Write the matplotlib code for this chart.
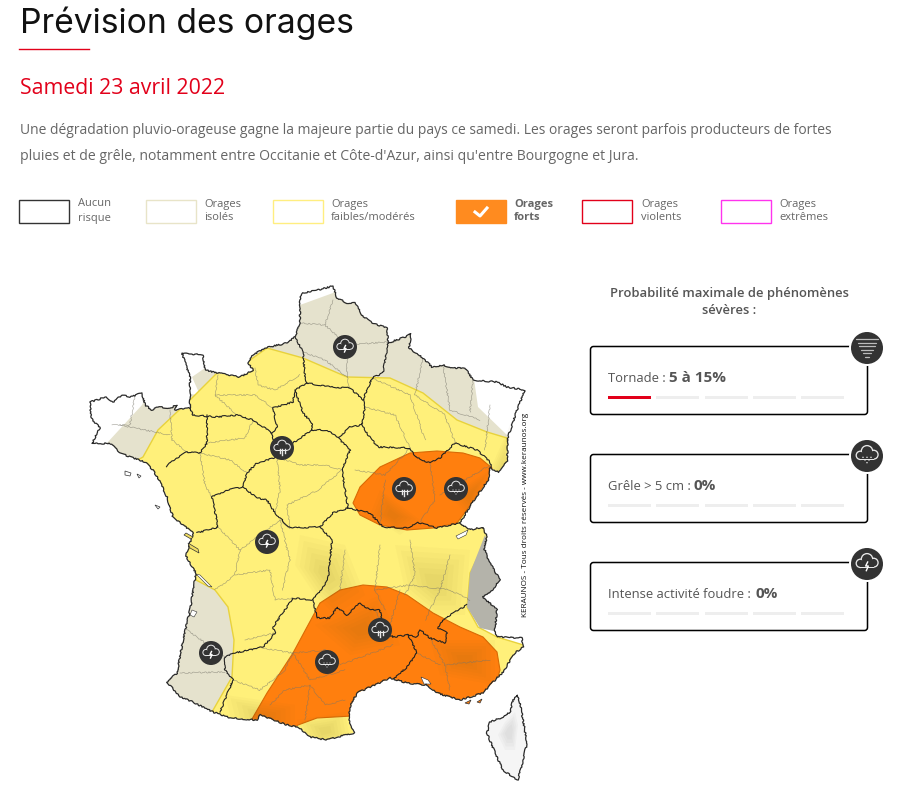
import matplotlib
matplotlib.use("Agg")
import matplotlib.pyplot as plt
from matplotlib.patches import Polygon, Rectangle, Circle, FancyBboxPatch

# outlines are in picture pixels
france = [(300,297),(303,293),(318,290),(333,286),(337,298),(347,303),(355,303),(362,315),(372,323),(387,328),(388,343),
          (405,337),(411,334),(409,348),(423,358),(432,367),(443,365),(453,368),(465,368),(473,380),(497,382),(507,387),
          (525,390),(517,410),(508,437),(507,462),(498,472),(490,468),(488,480),(472,503),(460,523),(470,530),(483,527),
          (487,537),(484,548),(490,563),(500,580),(490,593),(483,597),(497,610),(495,630),(497,637),(522,638),(523,647),
          (515,653),(503,672),(495,680),(483,693),(460,700),(437,693),(427,685),(407,683),(390,678),(370,687),(357,693),
          (350,707),(349,723),(354,733),(337,737),(327,740),(310,737),(298,727),(287,725),(260,715),(257,720),(230,718),
          (213,712),(193,702),(180,697),(167,682),(177,673),(183,640),(190,610),(196,573),(186,556),(190,543),(193,533),
          (173,517),(167,497),(160,482),(153,470),(145,462),(133,458),(120,453),(110,443),(100,444),(92,443),(100,428),(91,418),(90,402),
          (97,400),(105,397),(113,402),(122,395),(130,397),(142,393),(145,405),(152,410),(158,407),(170,408),(177,405),(175,410),(190,408),
          (190,377),(182,353),(203,355),(205,370),
          (218,373),(240,377),(253,370),(248,363),(253,355),(265,348),(287,343),(295,337),(300,323)]
corsica = [(517,695),(520,703),(523,720),(527,743),(523,760),(518,780),(510,775),(503,770),(497,757),(493,748),(487,733),(490,722),(503,717),(510,712),(513,700)]
corsica_relief = [(515,712),(518,725),(515,750),(505,750),(498,735),(505,722)]
islands = [[(186,533),(193,537),(191,539),(184,535)],[(188,543),(198,549),(199,553),(190,548)]]
islets = [[(125,471),(131,473),(130,476),(125,475)],[(155,505),(160,507),(158,509)],[(137,474),(141,476),(139,478)]]
orange_islets = [[(465,703),(471,700),(469,704)],[(477,702),(482,699),(480,703)]]

beige_zone = [(300,305),(333,293),(345,275),(420,310),(472,365),(478,407),(507,435),(515,480),(300,480),(200,470),(143,465),
              (100,465),(107,443),(142,405),(150,390),(200,395),(192,377),(205,368),(230,360),(290,330)]
beige_sw = [(196,578),(215,590),(228,607),(234,640),(232,677),(212,712),(170,712),(150,660),(170,580)]
yellow_zone = [(143,457),(158,430),(177,412),(192,398),(217,373),(250,360),(267,348),(303,358),(347,377),(390,378),(423,393),
               (457,420),(487,432),(507,438),(512,480),(485,542),(470,573),(467,607),(478,627),(497,637),(540,650),(500,740),
               (300,760),(212,712),(232,677),(234,640),(228,607),(215,590),(196,580),(170,570),(150,500),(120,470)]
orange_ne = [(353,503),(360,487),(380,467),(410,453),(437,451),(463,453),(480,458),(492,468),(488,480),(472,503),(457,523),
             (433,528),(407,530),(380,525),(360,515)]
orange_s = [(252,719),(267,693),(293,653),(307,627),(320,603),(340,590),(363,585),(387,587),(407,595),(433,613),(460,627),
            (483,637),(497,652),(500,670),(497,680),(480,720),(352,716),(317,718),(298,725),(280,735),(252,735)]
alps_grey = [(485,535),(500,580),(498,615),(498,632),(480,628),(467,607),(470,573)]
relief = [[(300,535),(345,545),(365,595),(335,615),(315,595),(295,565)],[(395,545),(470,550),(465,615),(435,615),(405,590)],
          [(225,695),(295,705),(295,735),(235,735)],[(315,625),(380,595),(400,645),(350,655)],[(430,640),(495,640),(495,685),(440,675)],
          [(470,515),(510,425),(520,470),(490,525)],[(297,720),(345,712),(350,740),(310,750)],[(380,490),(420,520),(400,535),(370,515)],
          [(450,495),(490,470),(470,520)]]
lakes = [[(196,574),(200,575),(212,587),(208,586)],[(421,677),(428,680),(431,684),(424,684)],[(456,536),(468,530),(466,535),(458,539)],
         [(192,610),(197,612),(194,617),(190,615)]]

regions = [[(295,337),(303,352),(305,377),(307,383),(330,387),(350,388),(363,400),(372,378),(383,373),(388,343)],
           [(307,383),(295,390),(293,402),(273,408),(277,427),(272,433),(253,420),(237,415),(217,417),(193,415),(190,408)],
           [(207,415),(207,443),(200,453),(187,452),(170,462),(167,467)],
           [(295,390),(303,413),(312,423),(312,430),(327,430),(338,438),(350,427),(362,425),(365,407),(363,400)],
           [(362,425),(368,435),(378,447),(410,448),(415,457),(430,463),(440,458),(455,443),(477,450),(490,462),(492,470)],
           [(312,430),(293,443),(277,457),(272,433)],
           [(277,457),(257,463),(247,473),(243,487),(227,490),(212,497),(218,527),(197,533)],
           [(243,487),(257,498),(267,500),(275,513),(290,528),(320,527),(333,513),(348,508),(342,470),(350,450),(338,438)],
           [(348,508),(370,513),(383,527),(410,528),(417,522),(437,528),(460,523)],
           [(320,527),(332,540),(328,580),(313,600),(293,598),(273,627),(275,633),(263,647),(235,653),(225,657),(225,670),(233,680),(220,712)],
           [(313,600),(317,618),(330,618),(337,607),(347,615),(360,603),(370,610),(380,610),(383,630),(393,637),(408,635),(417,653),(407,667),(393,680)],
           [(408,635),(417,637),(420,630),(430,638),(445,643),(447,633),(438,628),(445,618),(467,605)]]
departments = [[(303,352),(325,360),(347,377),(350,388)],[(333,300),(325,325),(347,345),(347,377)],[(300,323),(325,325)],[(347,345),(387,342)],
               [(255,368),(258,385),(275,390),(300,375)],[(218,375),(215,395),(237,415)],[(215,395),(255,395),(273,408)],
               [(170,410),(172,440),(187,452)],[(135,395),(130,425),(112,425)],[(120,425),(170,435)],
               [(207,443),(245,438),(253,420)],[(200,453),(230,460),(247,473)],[(200,453),(205,485),(212,497)],
               [(290,528),(287,505),(318,490),(342,470)],[(277,457),(300,465),(325,465),(342,470)],[(275,513),(280,490),(277,457)],
               [(365,407),(395,415),(410,448)],[(372,378),(410,395),(425,440)],[(423,358),(415,395),(445,415),(455,443)],
               [(443,365),(450,410),(480,420)],[(473,380),(470,412)],[(490,405),(485,450)],
               [(355,470),(385,475),(410,448)],[(380,525),(385,480)],[(430,463),(435,500),(420,522)],[(440,495),(490,465)],
               [(218,527),(240,550),(235,575),(215,590)],[(240,550),(280,520),(290,528)],[(235,575),(270,570),(275,600),(293,598)],
               [(280,520),(290,560),(282,590)],[(245,640),(275,633)],[(225,657),(180,625)],[(180,673),(225,672)],
               [(233,680),(260,690),(285,670),(293,653)],[(262,648),(293,653),(325,650),(340,665),(393,645)],[(293,653),(310,680),(345,670)],
               [(270,705),(285,690),(310,685),(325,705),(345,700)],[(310,685),(305,720)],[(380,545),(375,590),(385,610)],[(345,550),(340,590)],
               [(410,540),(415,575),(405,595)],[(375,590),(410,585),(450,590),(470,600)],[(450,555),(440,590),(425,620)],[(430,638),(445,665),(450,690)],
               [(445,665),(490,660)],[(417,653),(440,665)],[(375,610),(390,637)],[(400,590),(390,625)]]

legend_labels = [["Aucun","risque"],["Orages","isolés"],["Orages","faibles/modérés"],["Orages","forts"],["Orages","violents"],["Orages","extrêmes"]]
legend_x = [19,146,273,456,582,721]
legend_text_x = [78,204,331,514,641,779]
legend_colors = ["#333333","#e8e4c8","#ffee80","#ff8b1f","#e2001a","#ff33ee"]
legend_active = 3

map_icons = [(345,347,"bolt"),(282,448,"rain"),(267,542,"bolt"),(404,489,"rain"),(456,489,"hail"),(380,630,"rain"),(327,662,"hail"),(211,653,"bolt")]

card_names = ["Tornade :","Grêle > 5 cm :","Intense activité foudre :"]
card_values = ["5 à 15%","0%","0%"]
card_value_x = [669,694,756]
card_top = [347,455,563]
card_icons = ["tornado","hail","bolt"]
card_filled = [1,0,0]
seg_x = [608,656,705,753,801]

plt.rcParams['font.family'] = ['Open Sans','DejaVu Sans']
fig = plt.figure(figsize=(8.99,7.99),dpi=100)
ax = fig.add_axes([0,0,1,1])
ax.set_xlim(0,899)
ax.set_ylim(799,0)
ax.axis("off")

ROUGH = (0.7,5,24)


def cloud_icon(x,y,r,kind):
    ax.add_patch(Circle((x,y),r,fc="#333333",ec="none",zorder=10))
    s = r/12.0
    if kind=="tornado":
        for i,w in enumerate([8,7,6,4.5,3,1.5]):
            dy = -6.5+i*2.6
            ax.plot([x-w*s,x+w*s],[y+dy*s,y+dy*s],color="#bbbbbb",lw=0.9,zorder=11,solid_capstyle="round")
        return
    puffs = [(-5,-0.5,3.6),(0,-3.5,4.8),(5,-1,3.8)]
    for dx,dy,pr in puffs:
        ax.add_patch(Circle((x+dx*s,y+dy*s),pr*s,fc="#e8e8e8",ec="none",zorder=11))
    ax.add_patch(Rectangle((x-5*s,y-2*s),10*s,5*s,fc="#e8e8e8",ec="none",zorder=11))
    for dx,dy,pr in puffs:
        ax.add_patch(Circle((x+dx*s,y+dy*s),(pr-1)*s,fc="#333333",ec="none",zorder=12))
    ax.add_patch(Rectangle((x-5*s,y-2*s),10*s,4.2*s,fc="#333333",ec="none",zorder=12))
    if kind=="rain":
        for dx,l in [(-2.5,4),(0,6),(2.5,4)]:
            ax.plot([x+dx*s,x+dx*s],[y+1*s,y+(1+l)*s],color="#e8e8e8",lw=1,zorder=13)
    elif kind=="hail":
        for dx,dy in [(-3,1),(0,1),(3,1),(-1.5,3),(1.5,3),(0,5)]:
            ax.add_patch(Circle((x+dx*s,y+dy*s),0.55*s,fc="#e8e8e8",ec="none",zorder=13))
    else:
        ax.plot([x+0.5*s,x-1*s,x+1*s,x-0.5*s],[y-1.5*s,y+1.5*s,y+1.5*s,y+5*s],color="#ffffff",lw=1,zorder=13)


# header
ax.text(20,23.5,"Prévision des orages",family=["Inter","DejaVu Sans"],fontsize=24.2,color="#111111",va="center")
ax.plot([19,89],[48.5,48.5],color="#e2001a",lw=1)
ax.text(19.5,88.5,"Samedi 23 avril 2022",fontsize=15.3,color="#e2001a",va="center")
ax.text(19.5,131,"Une dégradation pluvio-orageuse gagne la majeure partie du pays ce samedi. Les orages seront parfois producteurs de fortes",fontsize=10.0,color="#666666",va="center")
ax.text(19.5,156,"pluies et de grêle, notamment entre Occitanie et Côte-d'Azur, ainsi qu'entre Bourgogne et Jura.",fontsize=10.11,color="#666666",va="center")

# legend
for i in range(len(legend_labels)):
    fc = legend_colors[i] if i==legend_active else "white"
    ax.add_patch(Rectangle((legend_x[i],199.5),49.5,23,fc=fc,ec=legend_colors[i],lw=1))
    weight = "bold" if i==legend_active else "normal"
    ax.text(legend_text_x[i],204,legend_labels[i][0],fontsize=8,color="#666666",va="center",weight=weight)
    ax.text(legend_text_x[i],218,legend_labels[i][1],fontsize=8,color="#666666",va="center",weight=weight)
ax.plot([475,480,487],[212,216,208],color="white",lw=2.2)

# map, the zones are clipped to the coast
land = Polygon(france,closed=True,fc="white",ec="none",zorder=1)
ax.add_patch(land)
zones = [(beige_zone,"#e5e2cd","none",2),(beige_sw,"#e5e2cd","none",2),(yellow_zone,"#fff07a","#e8d23c",3)]
for pts,fc,ec,z in zones:
    p = Polygon(pts,closed=True,fc=fc,ec=ec,lw=1,zorder=z)
    ax.add_patch(p)
    p.set_clip_path(land)
p = Polygon(alps_grey,closed=True,fc="#b4b3aa",ec="none",zorder=3)
ax.add_patch(p)
p.set_clip_path(land)
for pts in [orange_ne,orange_s]:
    p = Polygon(pts,closed=True,fc="#ff7f0e",ec="#d96a05",lw=0.8,zorder=5)
    ax.add_patch(p)
    p.set_clip_path(land)
# relief shading, stacked shrinking polygons so that the edges stay soft
for pts in relief:
    cx = sum(q[0] for q in pts)/len(pts)
    cy = sum(q[1] for q in pts)/len(pts)
    for k in [1.0,0.85,0.7,0.55,0.4,0.25]:
        shrunk = [(cx+(q[0]-cx)*k,cy+(q[1]-cy)*k) for q in pts]
        p = Polygon(shrunk,closed=True,fc="#6e5c20",ec="none",alpha=0.028,zorder=5.5)
        ax.add_patch(p)
        p.set_clip_path(land)
for line in departments:
    l, = ax.plot(*zip(*line),color="#77756a",lw=0.45,alpha=0.65,zorder=6)
    l.set_clip_path(land)
    l.set_sketch_params(*ROUGH)
for line in regions:
    l, = ax.plot(*zip(*line),color="#222222",lw=0.8,zorder=7)
    l.set_clip_path(land)
    l.set_sketch_params(*ROUGH)
for pts in lakes:
    ax.add_patch(Polygon(pts,closed=True,fc="white",ec="#333333",lw=0.4,zorder=8))
coast = Polygon(france,closed=True,fc="none",ec="#2a2a2a",lw=0.9,zorder=8,joinstyle="round")
ax.add_patch(coast)
coast.set_sketch_params(*ROUGH)
ax.add_patch(Polygon(corsica,closed=True,fc="#f5f5f5",ec="none",zorder=8))
cx = sum(q[0] for q in corsica_relief)/len(corsica_relief)
cy = sum(q[1] for q in corsica_relief)/len(corsica_relief)
for k in [1.0,0.8,0.6,0.4]:
    shrunk = [(cx+(q[0]-cx)*k,cy+(q[1]-cy)*k) for q in corsica_relief]
    ax.add_patch(Polygon(shrunk,closed=True,fc="#888888",ec="none",alpha=0.05,zorder=8))
corse = Polygon(corsica,closed=True,fc="none",ec="#2a2a2a",lw=0.9,zorder=8)
ax.add_patch(corse)
corse.set_sketch_params(*ROUGH)
for pts in islands:
    ax.add_patch(Polygon(pts,closed=True,fc="#f0dc60",ec="#333333",lw=0.5,zorder=8))
for pts in islets:
    ax.add_patch(Polygon(pts,closed=True,fc="white",ec="#333333",lw=0.5,zorder=8))
for pts in orange_islets:
    ax.add_patch(Polygon(pts,closed=True,fc="#ff7f0e",ec="#333333",lw=0.5,zorder=8))
for x,y,kind in map_icons:
    cloud_icon(x,y,12,kind)
ax.text(525.5,514.5,"KERAUNOS - Tous droits réservés - www.keraunos.org",rotation=90,fontsize=5.9,color="#111111",ha="center",va="center")

# right panel
ax.text(729,293,"Probabilité maximale de phénomènes",fontsize=9.35,color="#555555",ha="center",va="center",weight="semibold")
ax.text(729,310,"sévères :",fontsize=9.35,color="#555555",ha="center",va="center",weight="semibold")
for i in range(3):
    top = card_top[i]
    ax.add_patch(FancyBboxPatch((592,top+1),274,65,boxstyle="round,pad=1.5,rounding_size=3",fc="white",ec="black",lw=1.1))
    ax.text(608,top+32,card_names[i],fontsize=9.4,color="#555555",va="center")
    ax.text(card_value_x[i],top+31,card_values[i],fontsize=11,color="#555555",va="center",weight="bold")
    for j in range(5):
        c = "#e2001a" if j<card_filled[i] else "#eeeeee"
        ax.add_patch(Rectangle((seg_x[j],top+49),43,3,fc=c,ec="none"))
    ax.add_patch(Circle((867,top+1),18,fc="white",ec="none",zorder=9))
    cloud_icon(867,top+1,16,card_icons[i])

fig.savefig("out.png",dpi=100)
